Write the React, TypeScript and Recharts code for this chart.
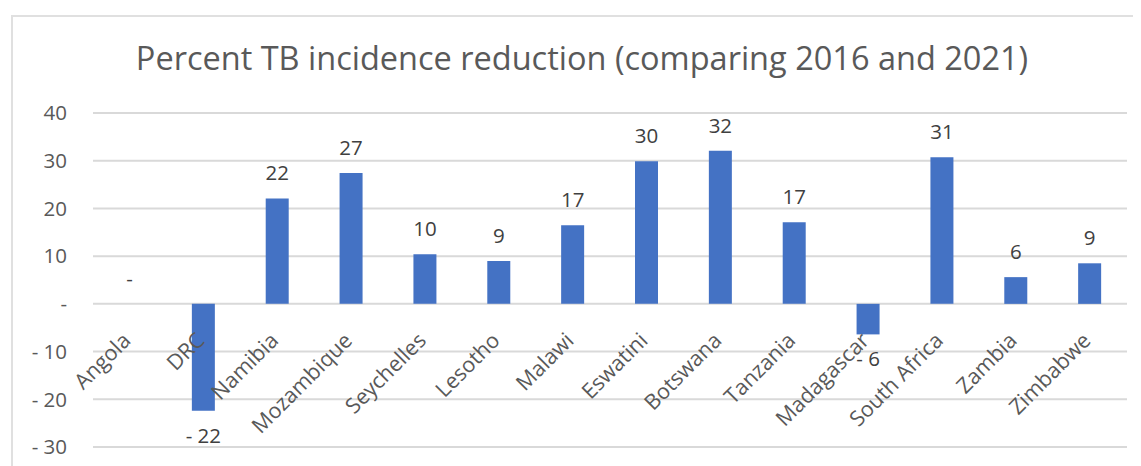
import React from 'react';
import { BarChart, Bar, XAxis, YAxis, CartesianGrid, LabelList } from 'recharts';

const categories = [
  'Angola', 'DRC', 'Namibia', 'Mozambique', 'Seychelles', 'Lesotho', 'Malawi',
  'Eswatini', 'Botswana', 'Tanzania', 'Madagascar', 'South Africa', 'Zambia', 'Zimbabwe',
];
const reductions = [0, -22.4, 22.1, 27.4, 10.4, 9.0, 16.5, 29.9, 32.1, 17.1, -6.4, 30.7, 5.6, 8.5];
const yTicks = [-30, -20, -10, 0, 10, 20, 30, 40];
const title = 'Percent TB incidence reduction (comparing 2016 and 2021)';

const data = categories.map((name, i) => ({ name, value: reductions[i] }));

const fmt = (v: number) => {
  const r = Math.round(Number(v));
  if (r === 0) return '-';
  return r < 0 ? `- ${Math.abs(r)}` : String(r);
};

const FONT = "'Open Sans', sans-serif";
const W = 1133;
const H = 458;

const boxOf = (props: any) => {
  const vb = props.viewBox ?? props;
  const x = Number(vb.x ?? props.x);
  const y = Number(vb.y ?? props.y);
  const width = Number(vb.width ?? props.width);
  const height = Number(vb.height ?? props.height);
  return { x, y, width, height, top: Math.min(y, y + height), bottom: Math.max(y, y + height) };
};

const ValueLabel = (props: any) => {
  const { x, width, top, bottom } = boxOf(props);
  const v = Number(props.value);
  const cx = x + width / 2;
  const ty = v < 0 ? bottom + 32 : top - 18;
  return (
    <text x={cx} y={ty} textAnchor="middle" fill="#404040" fontSize={20.5} fontFamily={FONT}>
      {fmt(v)}
    </text>
  );
};

const CatLabel = (props: any) => {
  const { x, width, top, bottom } = boxOf(props);
  const name = String(props.value);
  const v = reductions[categories.indexOf(name)];
  const zero = v < 0 ? top : bottom;
  const ax = x + width / 2 + 2.5;
  const ay = zero + 38;
  return (
    <text
      x={ax}
      y={ay}
      textAnchor="end"
      transform={`rotate(-45 ${ax} ${ay})`}
      fill="#595959"
      fontSize={21.5}
      fontFamily={FONT}
    >
      {name}
    </text>
  );
};

export default function App() {
  return (
    <div style={{ position: 'relative', width: W, height: H, overflow: 'hidden', background: '#fff' }}>
      <BarChart
        width={W}
        height={H}
        data={data}
        margin={{ top: 105, right: 14, bottom: 19, left: 0 }}
      >
        <CartesianGrid horizontal vertical={false} stroke="#d9d9d9" strokeWidth={2} />
        <XAxis dataKey="name" hide />
        <YAxis
          domain={[-30, 40]}
          ticks={yTicks}
          interval={0}
          width={85}
          axisLine={false}
          tickLine={false}
          tickSize={0}
          tickMargin={26}
          tickFormatter={fmt}
          tick={{ fill: '#595959', fontSize: 20.5, fontFamily: FONT }}
        />
        <Bar dataKey="value" fill="#4472C4" barSize={23} minPointSize={0.01} isAnimationActive={false}>
          <LabelList dataKey="value" content={ValueLabel} />
          <LabelList dataKey="name" content={CatLabel} />
        </Bar>
      </BarChart>
      <svg width={W} height={90} style={{ position: 'absolute', left: 0, top: 0 }}>
        <text x={574} y={62} textAnchor="middle" fill="#595959" fontSize={32.5} fontFamily={FONT}>
          {title}
        </text>
      </svg>
      <div
        style={{
          position: 'absolute',
          left: 3,
          top: 7,
          width: W + 20,
          height: H + 20,
          border: '2px solid #e0e0e0',
          boxSizing: 'border-box',
          pointerEvents: 'none',
        }}
      />
    </div>
  );
}
